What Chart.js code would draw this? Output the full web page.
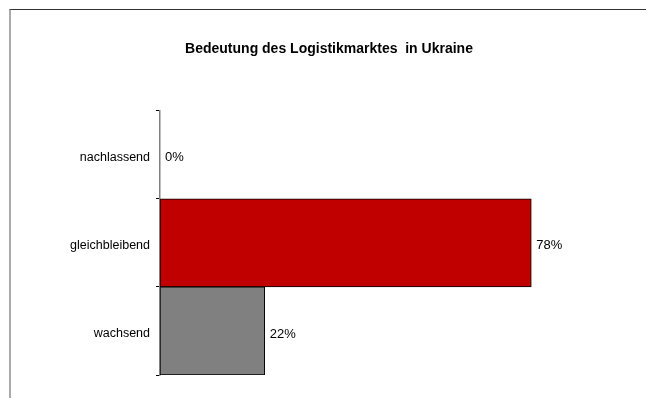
<!DOCTYPE html>
<html>
<head>
<meta charset="utf-8">
<script src="https://cdn.jsdelivr.net/npm/chart.js@4"></script>
<style>
  body { margin: 0; background: #fff; }
  #wrap { position: relative; width: 646px; height: 398px; overflow: hidden; }
  #frame {
    position: absolute; left: 9px; top: 9px; width: 700px; height: 500px;
    border-top: 1px solid #333; border-left: 2px solid #aaa;
  }
  canvas { position: absolute; left: 0; top: 0; }
</style>
</head>
<body>
<div id="wrap">
  <div id="frame"></div>
  <canvas id="chart" width="646" height="398"></canvas>
</div>
<script>
const categories = ["nachlassend", "gleichbleibend", "wachsend"];
const shares = [0, 78, 22];
const barColors = ["#c00000", "#c00000", "#808080"];

const font = "'Liberation Sans', Arial, sans-serif";

// percent labels next to the bar ends
const valueLabels = {
  id: "valueLabels",
  afterDatasetsDraw(chart) {
    const ctx = chart.ctx;
    const meta = chart.getDatasetMeta(0);
    ctx.save();
    ctx.font = "13px " + font;
    ctx.fillStyle = "#000";
    ctx.textAlign = "left";
    ctx.textBaseline = "middle";
    meta.data.forEach((bar, i) => {
      ctx.fillText(shares[i] + "%", bar.x + 5, bar.y + 3);
    });
    ctx.restore();
  }
};

new Chart(document.getElementById("chart").getContext("2d"), {
  type: "bar",
  data: {
    labels: categories,
    datasets: [{
      data: shares,
      backgroundColor: barColors,
      borderColor: "#000",
      borderWidth: 1,
      borderSkipped: false,
      barPercentage: 1,
      categoryPercentage: 1,
    }]
  },
  options: {
    indexAxis: "y",
    responsive: false,
    animation: false,
    layout: { padding: { left: 22, right: 10, top: 0, bottom: 23 } },
    scales: {
      x: { display: false, min: 0, max: 100 },
      y: {
        afterFit: (scale) => { scale.width = 138; },
        grid: {
          drawOnChartArea: false,
          tickLength: 4,
          color: "#000",
          offset: true,
        },
        border: { display: true, color: "#808080", width: 1.5 },
        ticks: { color: "#000", padding: 6, labelOffset: 3, font: { family: font, size: 12.5 } },
      },
    },
    plugins: {
      legend: { display: false },
      tooltip: { enabled: false },
      title: {
        display: true,
        text: "Bedeutung des Logistikmarktes  in Ukraine",
        color: "#000",
        font: { family: font, size: 14, weight: "bold" },
        padding: { top: 41, bottom: 53 },
      },
    },
  },
  plugins: [valueLabels],
});
</script>
</body>
</html>
